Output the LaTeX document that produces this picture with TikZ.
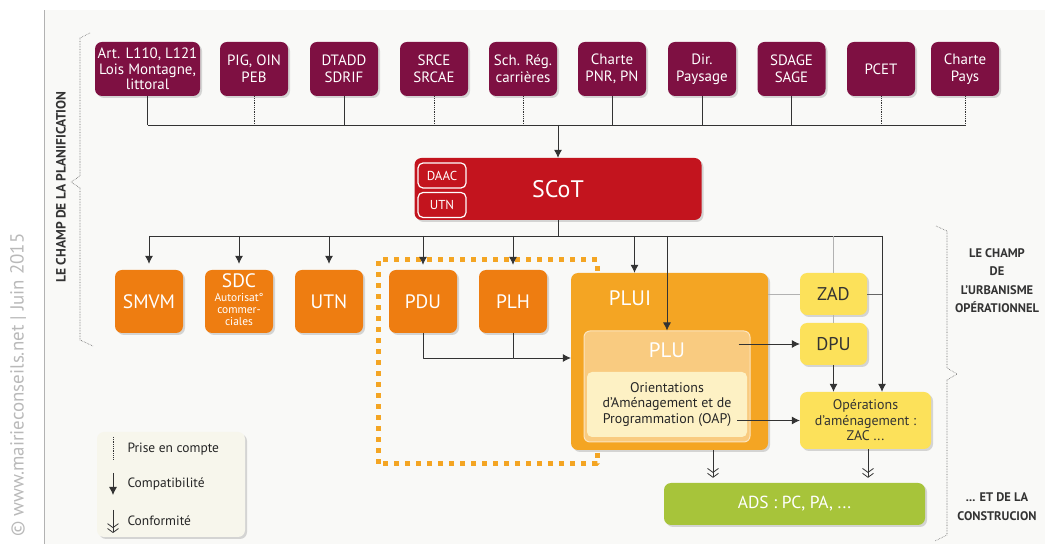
\documentclass[tikz,border=0pt]{standalone}
\usepackage{fontspec}
\setmainfont{PT Sans}
\usetikzlibrary{arrows.meta,shadows}
\definecolor{bordeaux}{HTML}{7E1042}
\definecolor{rougescot}{HTML}{C3141E}
\definecolor{orangebox}{HTML}{EE7D11}
\definecolor{pluibox}{HTML}{F4A523}
\definecolor{plubox}{HTML}{F9CB80}
\definecolor{oapbox}{HTML}{FDF1C4}
\definecolor{jaunebox}{HTML}{FCE15A}
\definecolor{vertads}{HTML}{A7C43A}
\definecolor{fond}{HTML}{F9F9F7}
\definecolor{legende}{HTML}{F7F6EC}
\begin{document}
\begin{tikzpicture}[>={Latex[length=8bp,width=8bp]},line join=bevel,
  box/.style={rounded corners=7bp,inner sep=0pt,align=center,
    drop shadow={opacity=0.3,shadow xshift=2bp,shadow yshift=-2bp}},
  topbox/.style={box,fill=bordeaux,text=white,minimum width=68bp,minimum height=54bp,
    font=\fontsize{15}{17}\selectfont},
  orbox/.style={box,fill=orangebox,text=white,minimum width=68bp,minimum height=63bp,
    font=\fontsize{19.5}{21}\selectfont},
  yelbox/.style={box,fill=jaunebox,text=black!80,minimum width=67bp,minimum height=42bp,
    font=\fontsize{18.5}{20}\selectfont},
  tagbox/.style={draw=white,line width=1.2bp,rounded corners=5bp,text=white,inner sep=0pt,
    minimum width=48bp,minimum height=25bp,font=\fontsize{13}{15}\selectfont},
  sidetext/.style={text=black!80,align=center,font=\fontsize{12.5}{18.5}\selectfont\bfseries},
  link/.style={black!80,line width=0.8bp},
  prise/.style={link,densely dotted},
  conform/.style={link,-{Straight Barb[length=4bp,width=11bp] Straight Barb[length=4bp,width=11bp]}},
  brace/.style={black!60,line width=0.6bp,densely dotted},
]
\useasboundingbox (0bp,0bp) rectangle (1045bp,544bp);
%%
\fill [fond] (44bp,0bp) rectangle (1045bp,534bp);
\draw [gray!60,line width=0.8bp] (44bp,0bp) -- (44bp,534bp);
\node (node_copy) at (18bp,159bp) [rotate=90,text=gray!55,font=\fontsize{19}{19}\selectfont] {© www.mairieconseils.net | Juin 2015};
%
\draw [brace] (90bp,511bp) -- (80bp,506bp) -- (80bp,368bp) -- (71bp,362bp) -- (80bp,356bp) -- (80bp,204bp) -- (93bp,198bp);
\node (node_champ_pl) at (61bp,357bp) [sidetext,rotate=90,font=\fontsize{13.5}{15}\selectfont\bfseries] {LE CHAMP DE LA PLANIFICATION};
\draw [brace] (936bp,318bp) -- (947bp,313bp) -- (947bp,176bp) -- (957bp,170bp) -- (947bp,164bp) -- (947bp,9bp) -- (935bp,3bp);
\node (node_champ_op) at (997bp,263.5bp) [sidetext] {LE CHAMP\\DE\\L'URBANISME\\OPÉRATIONNEL};
\node (node_constr) at (997bp,37.5bp) [sidetext] {... ET DE LA\\CONSTRUCION};
%
\draw [pluibox,line width=5bp,dash pattern=on 5bp off 6bp] (378bp,80bp) rectangle (597bp,284bp);
%%
\node (node_art) at (147.5bp,475bp) [topbox,minimum width=105bp,font=\fontsize{15}{15.5}\selectfont] {Art. L110, L121\\Lois Montagne,\\littoral};
  \node (node_pig) at (254bp,475bp) [topbox] {PIG, OIN\\PEB};
  \node (node_dtadd) at (344bp,475bp) [topbox] {DTADD\\SDRIF};
  \node (node_srce) at (434bp,475bp) [topbox] {SRCE\\SRCAE};
  \node (node_sch) at (523bp,475bp) [topbox] {Sch. Rég.\\carrières};
  \node (node_pnr) at (612bp,475bp) [topbox] {Charte\\PNR, PN};
  \node (node_dir) at (702bp,475bp) [topbox] {Dir.\\Paysage};
  \node (node_sdage) at (791.5bp,475bp) [topbox] {SDAGE\\SAGE};
  \node (node_pcet) at (881bp,475bp) [topbox] {PCET};
  \node (node_pays) at (965bp,475bp) [topbox] {Charte\\Pays};
%
\node (node_scot) at (558bp,355bp) [box,fill=rougescot,text=white,minimum width=287bp,minimum height=62bp,font=\fontsize{24}{26}\selectfont] {SCoT};
  \node (node_daac) at (442bp,368.5bp) [tagbox] {DAAC};
  \node (node_utn_s) at (442bp,339bp) [tagbox] {UTN};
%
\node (node_smvm) at (149bp,242.5bp) [orbox] {SMVM};
  \node (node_sdc) at (239bp,242.5bp) [orbox] {SDC\\[-7bp]{\fontsize{11.5}{12.5}\selectfont\begin{tabular}[t]{@{}c@{}}Autorisat°\\commer-\\ciales\end{tabular}}};
  \node (node_utn) at (329bp,242.5bp) [orbox] {UTN};
  \node (node_pdu) at (423bp,242.5bp) [orbox] {PDU};
  \node (node_plh) at (513bp,242.5bp) [orbox] {PLH};
%
\node (node_plui) at (669.5bp,182.5bp) [box,fill=pluibox,minimum width=197bp,minimum height=177bp] {};
  \node (node_plui_lbl) at (630bp,246bp) [text=white,font=\fontsize{21}{23}\selectfont] {PLUI};
  \node (node_plu) at (667bp,157.5bp) [rounded corners=6bp,fill=plubox,draw=white!50!plubox,line width=1bp,minimum width=166bp,minimum height=111bp] {};
  \node (node_plu_lbl) at (667bp,194bp) [text=white,font=\fontsize{21}{23}\selectfont] {PLU};
  \node (node_oap) at (667bp,139.5bp) [rounded corners=5bp,fill=oapbox,minimum width=160bp,minimum height=65bp,inner sep=0pt,align=center,text=black!85,font=\fontsize{14}{15.5}\selectfont] {Orientations\\d'Aménagement et de\\Programmation (OAP)};
%
\node (node_zad) at (833.5bp,250bp) [yelbox] {ZAD};
  \node (node_dpu) at (833.5bp,200bp) [yelbox] {DPU};
  \node (node_ops) at (865.5bp,123.5bp) [yelbox,minimum width=131bp,minimum height=57bp,font=\fontsize{14}{15.5}\selectfont] {Opérations\\d'aménagement :\\ZAC ...};
  \node (node_ads) at (794.5bp,40bp) [box,fill=vertads,text=white,minimum width=261bp,minimum height=42bp,font=\fontsize{17.5}{19}\selectfont] {ADS : PC, PA, ...};
%
\node (node_leg) at (171bp,59.5bp) [box,fill=legende,minimum width=148bp,minimum height=105bp] {};
  \node (node_leg_prise) at (124bp,95bp) [anchor=west,text=black!85,font=\fontsize{13.5}{15}\selectfont] {Prise en compte};
  \node (node_leg_compat) at (124bp,60bp) [anchor=west,text=black!85,font=\fontsize{13.5}{15}\selectfont] {Compatibilité};
  \node (node_leg_conf) at (124bp,23bp) [anchor=west,text=black!85,font=\fontsize{13.5}{15}\selectfont] {Conformité};
  \draw [prise] ([xshift=-11bp,yshift=12bp]node_leg_prise.west) -- ([xshift=-11bp,yshift=-11bp]node_leg_prise.west);
  \draw [link,->] ([xshift=-11bp,yshift=11bp]node_leg_compat.west) -- ([xshift=-11bp,yshift=-11bp]node_leg_compat.west);
  \draw [conform] ([xshift=-11bp,yshift=11bp]node_leg_conf.west) -- ([xshift=-11bp,yshift=-12bp]node_leg_conf.west);
%%
\coordinate (bus_top) at (558bp,419bp);
\coordinate (bus_mid) at (558bp,308bp);
\coordinate (bus_right) at (882bp,308bp);
\coordinate (pl_join) at (513bp,186bp);
%
\draw [link] (node_art.south |- bus_top) -- (node_pays.south |- bus_top);
  \draw [link] (node_art.south) -- (node_art.south |- bus_top);
  \draw [prise] (node_pig.south) -- (node_pig.south |- bus_top);
  \draw [link] (node_dtadd.south) -- (node_dtadd.south |- bus_top);
  \draw [prise] (node_srce.south) -- (node_srce.south |- bus_top);
  \draw [prise] (node_sch.south) -- (node_sch.south |- bus_top);
  \draw [link] (node_pnr.south) -- (node_pnr.south |- bus_top);
  \draw [link] (node_dir.south) -- (node_dir.south |- bus_top);
  \draw [link] (node_sdage.south) -- (node_sdage.south |- bus_top);
  \draw [prise] (node_pcet.south) -- (node_pcet.south |- bus_top);
  \draw [prise] (node_pays.south) -- (node_pays.south |- bus_top);
  \draw [link,->] (bus_top) -- (node_scot.north);
%
\draw [link] (node_scot.south) -- (bus_mid);
  \draw [link] (node_smvm.north |- bus_mid) -- (bus_right);
  \draw [link,->,shorten >=6bp] (node_smvm.north |- bus_mid) -- (node_smvm.north);
  \draw [link,->,shorten >=6bp] (node_sdc.north |- bus_mid) -- (node_sdc.north);
  \draw [link,->,shorten >=6bp] (node_utn.north |- bus_mid) -- (node_utn.north);
  \draw [link,->,shorten >=5bp] (node_pdu.north |- bus_mid) -- (node_pdu.north);
  \draw [link,->,shorten >=5bp] (node_plh.north |- bus_mid) -- (node_plh.north);
  \draw [link,->] ([xshift=-35bp]node_plui.north |- bus_mid) -- ([xshift=-35bp]node_plui.north);
  \draw [link,->] (node_plu.north |- bus_mid) -- (node_plu.north);
  \draw [link,->] (bus_right) -- (bus_right |- node_ops.north);
%
\draw [gray!60,line width=0.8bp] (node_zad.north |- bus_mid) -- (node_zad.north);
  \draw [gray!60,line width=0.8bp] (node_zad.south) -- (node_dpu.north);
  \draw [gray!60,line width=0.8bp] (node_plui.east |- node_zad.west) -- (node_zad.west);
  \draw [black!60,line width=0.8bp] (node_zad.east) -- (node_zad.east -| bus_right);
%
\draw [link] (node_pdu.south) |- (pl_join);
  \draw [link,->] (node_plh.south) -- (pl_join) -- (pl_join -| node_plui.west);
  \draw [link,->] ([xshift=-12bp]node_plu.east |- node_dpu.west) -- (node_dpu.west);
  \draw [link,->] ([xshift=-10bp]node_oap.east |- node_ops.west) -- (node_ops.west);
  \draw [link,->] (node_dpu.south) -- (node_dpu.south |- node_ops.north);
  \draw [conform,shorten >=5bp] ([xshift=43.5bp]node_plui.south) -- ([xshift=43.5bp]node_plui.south |- node_ads.north);
  \draw [conform,shorten >=5bp] ([xshift=2.5bp]node_ops.south) -- ([xshift=2.5bp]node_ops.south |- node_ads.north);
%
\end{tikzpicture}
\end{document}
